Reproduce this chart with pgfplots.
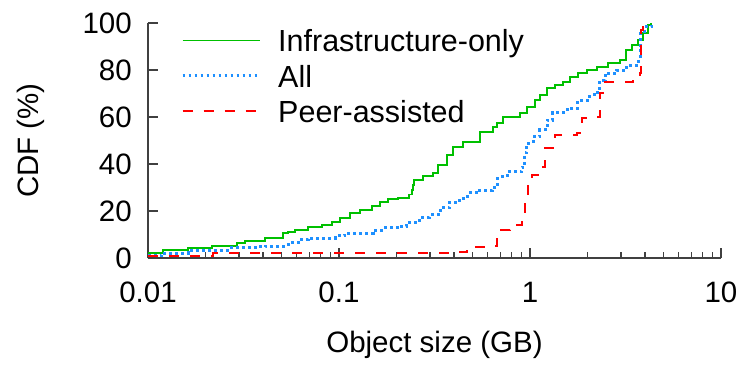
\documentclass[border=0pt]{standalone}
\usepackage{fontspec}
\setmainfont{Liberation Sans}
\usepackage{pgfplots}
\pgfplotsset{compat=1.18}

\definecolor{infragreen}{RGB}{0,192,0}
\definecolor{allblue}{RGB}{30,144,255}
\definecolor{peerred}{RGB}{255,0,0}
\definecolor{axisgray}{RGB}{64,64,64}

\newcommand{\chartfont}{\fontsize{29.5}{34}\selectfont}
\newcommand{\legendfont}{\fontsize{30.5}{35}\selectfont}

\begin{document}
\begin{tikzpicture}
\begin{axis}[
  scale only axis,
  width=573pt, height=235pt,
  xmode=log,
  xmin=0.01, xmax=10,
  ymin=0, ymax=100,
  axis x line*=bottom,
  axis y line*=left,
  axis line style={line width=1.6pt, draw=axisgray, -},
  xtick={0.01,0.1,1,10},
  xticklabels={0.01,0.1,1,10},
  minor xtick={0.02,0.03,0.04,0.05,0.06,0.07,0.08,0.09,0.2,0.3,0.4,0.5,0.6,0.7,0.8,0.9,2,3,4,5,6,7,8,9},
  ytick={0,20,40,60,80,100},
  tick align=inside,
  major tick length=10pt,
  minor tick length=6pt,
  every tick/.style={line width=1.3pt, axisgray},
  /pgf/number format/assume math mode=true,
  tick label style={font=\chartfont, text=black},
  xticklabel style={anchor=north, inner sep=0pt, yshift=-24pt},
  yticklabel style={anchor=east, inner sep=0pt, xshift=-16pt},
  xlabel={Object size (GB)},
  ylabel={CDF (\%)},
  label style={font=\chartfont},
  xlabel style={at={(axis description cs:0.5,-0.370)}, anchor=center},
  ylabel style={at={(axis description cs:-0.2042,0.5)}, anchor=center, rotate=0},
  legend style={
    at={(axis description cs:0.0576,0.9745)}, anchor=north west,
    draw=none, fill=none, inner sep=0pt,
    font=\legendfont,
    row sep=13pt, column sep=17pt,
    nodes={inner sep=0pt, text height=22.5pt, text depth=0pt},
  },
  legend cell align=left,
  legend image code/.code={\draw[#1] (0pt,0pt) -- (77pt,0pt);},
]

% Infrastructure-only
\addplot[const plot, color=infragreen, line width=1.7pt] coordinates {
  (0.0100,2.1) (0.0120,3.4) (0.0162,4.3) (0.0216,5.1) (0.0292,6.4)
  (0.0322,7.2) (0.0410,8.5) (0.0509,10.6) (0.0541,11.0) (0.0588,11.9)
  (0.0689,13.2) (0.0814,14.0) (0.0919,15.3) (0.1012,17.0) (0.114,19.1)
  (0.129,20.4) (0.149,22.1) (0.164,23.8) (0.181,25.1) (0.204,25.5)
  (0.232,27.0) (0.241,28.9) (0.244,31.0) (0.247,33.2) (0.275,34.9) (0.311,36.2) (0.330,39.6)
  (0.368,43.8) (0.395,47.2) (0.446,49.4) (0.547,53.6) (0.640,55.7)
  (0.672,57.4) (0.722,60.0) (0.887,61.7) (0.964,64.3) (1.062,67.2)
  (1.128,69.4) (1.228,72.3) (1.351,73.6) (1.489,74.9) (1.62,77.0)
  (1.783,78.7) (1.987,80.0) (2.243,81.3) (2.56,83.0) (2.96,84.3)
  (3.18,88.5) (3.42,90.6) (3.68,92.8) (3.91,95.7) (4.15,99.1) (4.3,100)
};
\addlegendentry{Infrastructure-only}

% All objects
\addplot[const plot, color=allblue, line width=3pt, dash pattern=on 2.6pt off 3.4pt] coordinates {
  (0.0100,1.0) (0.0118,2.1) (0.0162,3.4) (0.0262,4.3) (0.0377,4.7)
  (0.0410,5.1) (0.0541,6.4) (0.0625,7.7) (0.0689,8.5) (0.0953,9.4)
  (0.1074,10.6) (0.1507,11.9) (0.170,12.8) (0.2085,13.6) (0.227,15.3)
  (0.2655,17.4) (0.299,18.3) (0.338,21.3) (0.381,23.8) (0.430,25.5)
  (0.473,27.7) (0.547,28.9) (0.640,30.2) (0.680,34.5) (0.758,36.6)
  (0.908,38.3) (0.919,40.4) (0.941,44.7) (0.964,48.9) (1.037,51.5)
  (1.128,54.5) (1.228,58.7) (1.319,62.1) (1.563,63.8) (1.783,67.2)
  (2.061,69.4) (2.270,70.6) (2.323,75.7) (2.47,78.7) (2.85,80.0)
  (3.22,82.1) (3.72,84.3) (3.77,88.5) (3.81,95.7) (4.00,98.3) (4.35,100)
};
\addlegendentry{All}

% Peer-assisted
\addplot[const plot, color=peerred, line width=2pt, dash pattern=on 10pt off 11pt] coordinates {
  (0.0100,1.0) (0.0219,2.1) (0.381,2.6) (0.468,4.7) (0.596,5.1)
  (0.672,11.9) (0.786,14.0) (0.908,16.2) (0.941,24.7) (0.977,34.5)
  (1.024,35.3) (1.128,38.7) (1.199,46.8) (1.351,52.3) (1.762,53.2)
  (1.871,59.6) (2.243,60.0) (2.323,70.2) (2.47,74.9) (3.46,76.2)
  (3.77,78.7) (3.79,97.0) (3.91,98.3) (3.95,99.0)
};
\addlegendentry{Peer-assisted}

\end{axis}
\pgfresetboundingbox
\useasboundingbox ([shift={(-148pt,-109pt)}]current axis.south west)
  rectangle ([shift={(595pt,258pt)}]current axis.south west);
\end{tikzpicture}
\end{document}
